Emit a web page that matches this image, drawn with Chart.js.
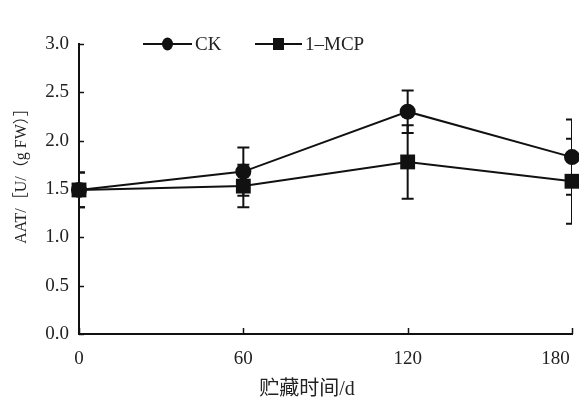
<!DOCTYPE html>
<html>
<head>
<meta charset="utf-8">
<script src="https://cdn.jsdelivr.net/npm/chart.js@4.4.1/dist/chart.umd.min.js"></script>
<style>
  html, body { margin: 0; padding: 0; background: #fff; }
  canvas { display: block; }
</style>
</head>
<body>
<canvas id="aatChart" width="579" height="402"></canvas>
<script>
// ------------------------------------------------------------------
// data
// ------------------------------------------------------------------
const DAYS = [0, 60, 120, 180];
const X_TICKS = [0, 60, 120, 180];
const Y_TICKS = [0, 0.5, 1.0, 1.5, 2.0, 2.5, 3.0];

const CK_VALUES = [1.49, 1.68, 2.30, 1.83];
const CK_ERRORS = [0.18, 0.25, 0.22, 0.39];

const MCP_VALUES = [1.49, 1.53, 1.78, 1.58];
const MCP_ERRORS = [0.18, 0.22, 0.38, 0.44];

const SERIES_NAMES = ["CK", "1\u2013MCP"];
const X_TITLE = "贮藏时间/d";
const Y_TITLE = "AAT/［U/（g FW）］";

const INK = "#111111";
const SERIF = "'Liberation Serif', 'Noto Sans CJK SC', serif";

// ------------------------------------------------------------------
// error bars (behind the markers, clipped to the plot area)
// ------------------------------------------------------------------
const errorBarPlugin = {
    id: "errorBars",
    beforeDatasetsDraw(chart) {
        const { ctx, chartArea, scales } = chart;
        ctx.save();
        ctx.beginPath();
        ctx.rect(chartArea.left, chartArea.top - 20, chartArea.right - chartArea.left, chartArea.bottom - chartArea.top + 20);
        ctx.clip();
        ctx.strokeStyle = INK;
        ctx.lineWidth = 2;
        chart.data.datasets.forEach(ds => {
            ds.data.forEach((p, i) => {
                const err = ds.errors[i];
                const x = scales.x.getPixelForValue(p.x);
                const yTop = scales.y.getPixelForValue(p.y + err);
                const yBot = scales.y.getPixelForValue(p.y - err);
                ctx.beginPath();
                ctx.moveTo(x, yTop); ctx.lineTo(x, yBot);
                ctx.moveTo(x - 6, yTop); ctx.lineTo(x + 6, yTop);
                ctx.moveTo(x - 6, yBot); ctx.lineTo(x + 6, yBot);
                ctx.stroke();
            });
        });
        ctx.restore();
    }
};

// ------------------------------------------------------------------
// inward ticks, titles, legend
// ------------------------------------------------------------------
const decorPlugin = {
    id: "decor",
    afterDraw(chart) {
        const { ctx, chartArea, scales } = chart;
        ctx.save();
        ctx.strokeStyle = INK;
        ctx.lineWidth = 1.5;

        // inward ticks
        scales.y.ticks.forEach(t => {
            const y = Math.round(scales.y.getPixelForValue(t.value)) + 0.5;
            ctx.beginPath();
            ctx.moveTo(chartArea.left, y);
            ctx.lineTo(chartArea.left + 5, y);
            ctx.stroke();
        });
        scales.x.ticks.forEach(t => {
            const x = Math.round(scales.x.getPixelForValue(t.value)) + 0.5;
            ctx.beginPath();
            ctx.moveTo(x, chartArea.bottom);
            ctx.lineTo(x, chartArea.bottom - 6);
            ctx.stroke();
        });

        // axis titles
        ctx.fillStyle = "#222";
        ctx.textAlign = "center";
        ctx.textBaseline = "middle";
        ctx.font = "20px " + SERIF;
        ctx.fillText(X_TITLE, 307, 390);

        ctx.save();
        ctx.translate(22, 172);
        ctx.rotate(-Math.PI / 2);
        ctx.font = "16px " + SERIF;
        ctx.fillText(Y_TITLE, 0, 0);
        ctx.restore();

        // legend
        const items = [
            { x0: 143, x1: 192, y: 44, style: "circle" },
            { x0: 255, x1: 302, y: 44, style: "rect" }
        ];
        ctx.lineWidth = 2;
        ctx.fillStyle = INK;
        items.forEach((it, i) => {
            ctx.beginPath();
            ctx.moveTo(it.x0, it.y);
            ctx.lineTo(it.x1, it.y);
            ctx.stroke();
            const cx = (it.x0 + it.x1) / 2;
            ctx.beginPath();
            if (it.style === "circle") {
                ctx.ellipse(cx, it.y, 5.5, 6.5, 0, 0, Math.PI * 2);
            } else {
                ctx.rect(cx - 5.5, it.y - 6, 11, 12);
            }
            ctx.fill();
            ctx.font = "19px " + SERIF;
            ctx.textAlign = "left";
            ctx.fillStyle = "#222";
            ctx.fillText(SERIES_NAMES[i], it.x1 + 3, it.y + 1);
            ctx.fillStyle = INK;
        });
        ctx.restore();
    }
};

// ------------------------------------------------------------------
const toPoints = vals => vals.map((v, i) => ({ x: DAYS[i], y: v }));

const ctx = document.getElementById("aatChart").getContext("2d");

new Chart(ctx, {
    type: "line",
    data: {
        datasets: [
            {
                label: SERIES_NAMES[0],
                data: toPoints(CK_VALUES),
                errors: CK_ERRORS,
                borderColor: INK,
                backgroundColor: INK,
                borderWidth: 2,
                pointStyle: "circle",
                pointRadius: 8,
                pointBorderWidth: 0,
                tension: 0,
                clip: false
            },
            {
                label: SERIES_NAMES[1],
                data: toPoints(MCP_VALUES),
                errors: MCP_ERRORS,
                borderColor: INK,
                backgroundColor: INK,
                borderWidth: 2,
                pointStyle: "rect",
                pointRadius: 10.5,
                pointBorderWidth: 0,
                tension: 0,
                clip: false
            }
        ]
    },
    options: {
        responsive: false,
        animation: false,
        layout: { autoPadding: false, padding: { top: 44, right: 7, left: 0, bottom: 0 } },
        plugins: {
            legend: { display: false },
            tooltip: { enabled: false }
        },
        scales: {
            x: {
                type: "linear",
                min: 0,
                max: 180,
                afterBuildTicks: s => { s.ticks = X_TICKS.map(v => ({ value: v })); },
                afterFit: s => { s.height = 68; s.paddingLeft = 0; s.paddingRight = 0; },
                grid: { display: false },
                border: { display: true, color: INK, width: 2 },
                ticks: {
                    color: "#222",
                    padding: 6,
                    maxRotation: 0,
                    font: { family: SERIF, size: 19 },
                    // the last label sits left of its tick in the original
                    callback: v => v === 180 ? v + "       " : String(v)
                }
            },
            y: {
                type: "linear",
                min: 0,
                max: 3,
                afterBuildTicks: s => { s.ticks = Y_TICKS.map(v => ({ value: v })); },
                afterFit: s => { s.width = 79; s.paddingTop = 0; s.paddingBottom = 0; },
                grid: { display: false },
                border: { display: true, color: INK, width: 2 },
                ticks: {
                    color: "#222",
                    padding: 2,
                    font: { family: SERIF, size: 19 },
                    callback: v => v.toFixed(1)
                }
            }
        }
    },
    plugins: [errorBarPlugin, decorPlugin]
});
</script>
</body>
</html>
